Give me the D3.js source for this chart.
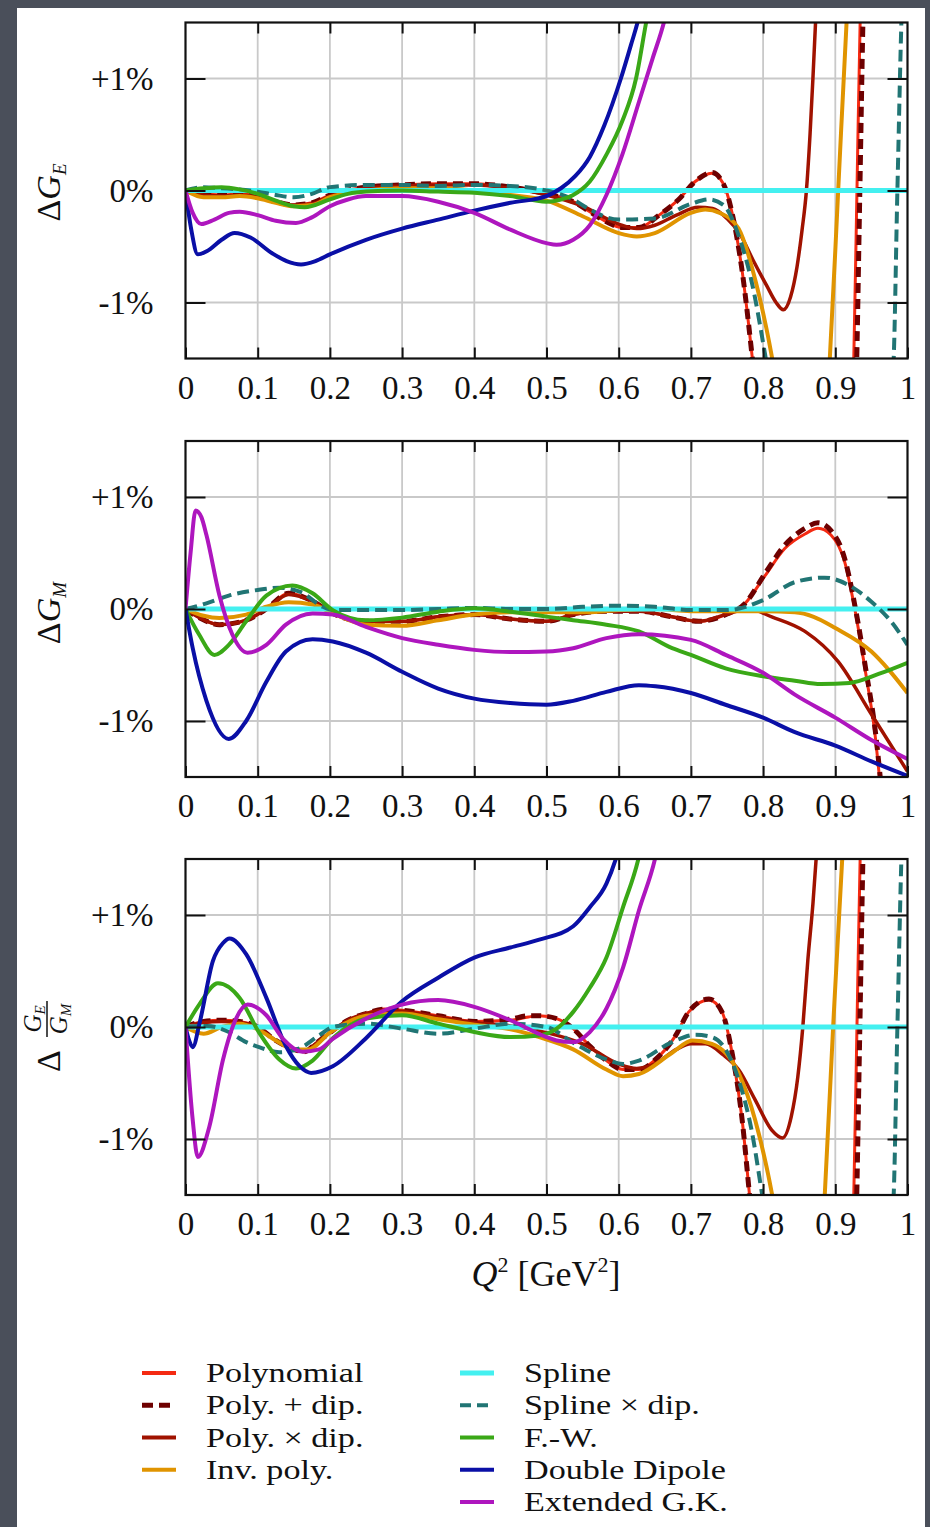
<!DOCTYPE html>
<html>
<head>
<meta charset="utf-8">
<title>Form factor fit deviations</title>
<script src="https://cdn.jsdelivr.net/npm/d3@7"></script>
<style>
  body { margin: 0; background: #4a4f5a; }
  svg { display: block; }
  text { font-family: "Liberation Serif", "DejaVu Serif", serif; fill: #111; }
</style>
</head>
<body>
<svg id="chart" width="930" height="1527"></svg>
<script>
// ---- data (Q^2 in GeV^2, deviation in %) ----
const Q_TICKS = [0, 0.1, 0.2, 0.3, 0.4, 0.5, 0.6, 0.7, 0.8, 0.9, 1];
const PCT_TICKS = [-1, 0, 1];
const SERIES = ["Polynomial", "Poly. + dip.", "Poly. \u00d7 dip.", "Inv. poly.",
                "Spline", "Spline \u00d7 dip.", "F.-W.", "Double Dipole", "Extended G.K."];

// panel 1: Delta G_E
const GE_poly = [[0,0],[0.025,-0.03],[0.05,-0.04],[0.075,-0.03],[0.1,-0.05],[0.125,-0.1],[0.15,-0.13],[0.175,-0.11],[0.2,-0.04],[0.25,0.03],[0.3,0.05],[0.35,0.06],[0.4,0.06],[0.45,0.03],[0.5,-0.03],[0.537,-0.1],[0.56,-0.19],[0.583,-0.28],[0.605,-0.33],[0.628,-0.33],[0.656,-0.22],[0.683,-0.08],[0.706,0.08],[0.729,0.155],[0.745,0.06],[0.757,-0.2],[0.771,-0.72],[0.786,-1.55],[0.8,-2.4],[0.86,-5],[0.92,-2.6],[0.925,-1.7],[0.93,0],[0.935,1.7],[0.945,3]];
const GE_polyPlusDip = [[0,0],[0.025,-0.03],[0.05,-0.04],[0.075,-0.03],[0.1,-0.05],[0.125,-0.1],[0.15,-0.13],[0.175,-0.11],[0.2,-0.04],[0.25,0.03],[0.3,0.05],[0.35,0.06],[0.4,0.06],[0.45,0.03],[0.5,-0.03],[0.537,-0.1],[0.56,-0.19],[0.583,-0.28],[0.605,-0.33],[0.628,-0.33],[0.656,-0.22],[0.683,-0.08],[0.706,0.08],[0.729,0.16],[0.745,0.06],[0.757,-0.2],[0.771,-0.72],[0.786,-1.55],[0.8,-2.4],[0.86,-5],[0.924,-2.6],[0.929,-1.7],[0.934,0],[0.939,1.7],[0.95,3]];
const GE_polyTimesDip = [[0,0],[0.025,-0.04],[0.05,-0.05],[0.075,-0.04],[0.1,-0.06],[0.125,-0.1],[0.15,-0.13],[0.175,-0.12],[0.2,-0.05],[0.25,0.02],[0.3,0.04],[0.35,0.05],[0.4,0.05],[0.45,0.02],[0.5,-0.04],[0.55,-0.14],[0.6,-0.3],[0.625,-0.34],[0.65,-0.31],[0.68,-0.22],[0.71,-0.15],[0.73,-0.16],[0.75,-0.25],[0.768,-0.39],[0.786,-0.62],[0.805,-0.85],[0.818,-1.0],[0.828,-1.065],[0.838,-0.95],[0.847,-0.68],[0.854,-0.35],[0.86,0],[0.865,0.5],[0.869,1.0],[0.873,1.55],[0.878,2.2]];
const GE_invPoly = [[0,0],[0.025,-0.06],[0.05,-0.06],[0.075,-0.05],[0.1,-0.07],[0.125,-0.11],[0.15,-0.14],[0.175,-0.13],[0.2,-0.06],[0.25,0],[0.3,0.02],[0.35,0.02],[0.4,0],[0.45,-0.04],[0.5,-0.09],[0.55,-0.23],[0.6,-0.38],[0.625,-0.41],[0.65,-0.38],[0.7,-0.2],[0.72,-0.17],[0.74,-0.2],[0.766,-0.34],[0.79,-0.82],[0.814,-1.55],[0.85,-3.2],[0.885,-2.2],[0.892,-1.55],[0.904,0],[0.916,1.55],[0.925,2.5]];
const GE_spline = [[0,0],[0.5,0],[1,0]];
const GE_splineDip = [[0,0],[0.025,0.03],[0.05,0.02],[0.075,0.01],[0.1,-0.01],[0.125,-0.04],[0.15,-0.06],[0.175,-0.03],[0.2,0.03],[0.25,0.05],[0.3,0.05],[0.35,0.04],[0.4,0.05],[0.45,0.04],[0.5,0],[0.537,-0.08],[0.56,-0.17],[0.6,-0.26],[0.65,-0.25],[0.7,-0.12],[0.725,-0.08],[0.745,-0.13],[0.766,-0.4],[0.784,-0.81],[0.805,-1.55],[0.85,-3.5],[0.93,-3],[0.98,-1.6],[0.986,0],[0.992,1.6],[1,2.5]];
const GE_fw = [[0,0],[0.025,0.02],[0.05,0.03],[0.075,0.01],[0.1,-0.03],[0.125,-0.09],[0.15,-0.14],[0.165,-0.15],[0.2,-0.08],[0.225,-0.03],[0.25,-0.01],[0.3,0],[0.35,-0.01],[0.4,-0.02],[0.45,-0.05],[0.5,-0.1],[0.52,-0.08],[0.537,-0.04],[0.56,0.08],[0.583,0.32],[0.605,0.62],[0.624,1.0],[0.638,1.5],[0.65,1.9]];
const GE_dd = [[0,0],[0.008,-0.35],[0.017,-0.57],[0.03,-0.54],[0.05,-0.44],[0.068,-0.38],[0.09,-0.42],[0.12,-0.56],[0.14,-0.63],[0.16,-0.66],[0.18,-0.63],[0.2,-0.57],[0.25,-0.44],[0.3,-0.34],[0.35,-0.26],[0.4,-0.18],[0.45,-0.11],[0.5,-0.05],[0.52,0.02],[0.54,0.13],[0.56,0.3],[0.58,0.58],[0.603,1.0],[0.617,1.3],[0.628,1.55],[0.64,1.95]];
const GE_egk = [[0,0],[0.01,-0.2],[0.022,-0.3],[0.04,-0.26],[0.06,-0.2],[0.075,-0.19],[0.1,-0.22],[0.125,-0.27],[0.153,-0.29],[0.175,-0.24],[0.2,-0.14],[0.225,-0.08],[0.25,-0.05],[0.3,-0.05],[0.35,-0.1],[0.4,-0.2],[0.45,-0.35],[0.5,-0.47],[0.514,-0.485],[0.537,-0.44],[0.56,-0.31],[0.583,-0.04],[0.605,0.32],[0.628,0.79],[0.647,1.18],[0.663,1.51],[0.67,1.7]];

// panel 2: Delta G_M
const GM_poly = [[0,0],[0.02,-0.08],[0.047,-0.14],[0.084,-0.1],[0.112,0],[0.143,0.14],[0.176,0.07],[0.204,-0.04],[0.25,-0.11],[0.3,-0.11],[0.35,-0.07],[0.4,-0.05],[0.45,-0.09],[0.5,-0.11],[0.537,-0.05],[0.583,-0.02],[0.628,-0.02],[0.674,-0.07],[0.711,-0.11],[0.748,-0.05],[0.775,0.05],[0.803,0.3],[0.83,0.54],[0.858,0.67],[0.876,0.72],[0.894,0.66],[0.913,0.42],[0.927,0],[0.941,-0.53],[0.955,-1.12],[0.962,-1.55],[0.97,-2]];
const GM_polyPlusDip = [[0,0],[0.02,-0.08],[0.047,-0.14],[0.084,-0.1],[0.112,0],[0.143,0.14],[0.176,0.07],[0.204,-0.04],[0.25,-0.11],[0.3,-0.11],[0.35,-0.07],[0.4,-0.05],[0.45,-0.09],[0.5,-0.11],[0.537,-0.05],[0.583,-0.02],[0.628,-0.02],[0.674,-0.07],[0.711,-0.11],[0.748,-0.05],[0.775,0.05],[0.803,0.32],[0.83,0.57],[0.858,0.72],[0.876,0.77],[0.894,0.7],[0.913,0.45],[0.928,0],[0.942,-0.53],[0.956,-1.12],[0.963,-1.55],[0.97,-2]];
const GM_polyTimesDip = [[0,0],[0.02,-0.08],[0.047,-0.14],[0.084,-0.1],[0.112,0],[0.143,0.13],[0.176,0.07],[0.204,-0.04],[0.25,-0.11],[0.3,-0.11],[0.35,-0.07],[0.4,-0.05],[0.45,-0.09],[0.5,-0.11],[0.537,-0.05],[0.583,-0.02],[0.628,-0.02],[0.674,-0.07],[0.711,-0.11],[0.748,-0.05],[0.78,0],[0.812,-0.07],[0.858,-0.2],[0.904,-0.47],[0.95,-0.94],[1,-1.45]];
const GM_invPoly = [[0,0],[0.025,-0.06],[0.047,-0.08],[0.084,-0.05],[0.112,0.02],[0.143,0.06],[0.176,0.04],[0.204,-0.04],[0.25,-0.14],[0.3,-0.15],[0.35,-0.1],[0.4,-0.05],[0.45,-0.03],[0.5,-0.03],[0.55,-0.03],[0.6,-0.01],[0.65,0],[0.7,-0.02],[0.75,-0.02],[0.8,-0.02],[0.844,-0.03],[0.87,-0.07],[0.9,-0.17],[0.95,-0.38],[0.975,-0.55],[1,-0.75]];
const GM_spline = [[0,0],[0.5,0],[1,0]];
const GM_splineDip = [[0,0],[0.029,0.05],[0.06,0.12],[0.1,0.17],[0.13,0.19],[0.16,0.15],[0.19,0.02],[0.204,-0.01],[0.25,-0.01],[0.3,-0.01],[0.35,0],[0.4,0.01],[0.45,0],[0.5,0],[0.55,0.02],[0.6,0.03],[0.65,0.02],[0.7,-0.01],[0.75,-0.01],[0.8,0.08],[0.844,0.24],[0.885,0.28],[0.927,0.18],[0.95,0.065],[0.977,-0.11],[1,-0.32]];
const GM_fw = [[0,0],[0.019,-0.23],[0.04,-0.41],[0.06,-0.32],[0.084,-0.11],[0.112,0.12],[0.148,0.21],[0.176,0.14],[0.204,-0.01],[0.25,-0.1],[0.3,-0.077],[0.35,-0.024],[0.4,0.006],[0.45,-0.024],[0.5,-0.068],[0.537,-0.1],[0.583,-0.14],[0.628,-0.2],[0.674,-0.35],[0.7,-0.41],[0.748,-0.53],[0.8,-0.6],[0.844,-0.64],[0.88,-0.67],[0.92,-0.66],[0.96,-0.58],[1,-0.48]];
const GM_dd = [[0,0],[0.01,-0.35],[0.029,-0.82],[0.06,-1.16],[0.084,-1.0],[0.112,-0.65],[0.139,-0.38],[0.176,-0.27],[0.204,-0.29],[0.25,-0.39],[0.3,-0.56],[0.35,-0.71],[0.4,-0.8],[0.45,-0.84],[0.5,-0.855],[0.537,-0.82],[0.583,-0.74],[0.628,-0.68],[0.651,-0.69],[0.7,-0.75],[0.748,-0.855],[0.8,-0.97],[0.844,-1.1],[0.9,-1.22],[0.95,-1.36],[1,-1.49]];
const GM_egk = [[0,0],[0.007,0.5],[0.014,0.88],[0.022,0.82],[0.029,0.66],[0.047,0.12],[0.065,-0.23],[0.086,-0.39],[0.112,-0.32],[0.139,-0.14],[0.176,-0.04],[0.204,-0.05],[0.25,-0.16],[0.3,-0.26],[0.35,-0.32],[0.4,-0.365],[0.45,-0.385],[0.5,-0.38],[0.537,-0.35],[0.583,-0.26],[0.628,-0.225],[0.7,-0.276],[0.748,-0.41],[0.8,-0.57],[0.844,-0.765],[0.9,-0.97],[0.95,-1.17],[1,-1.34]];

// panel 3: Delta (G_E / G_M)
const R_poly = [[0,0],[0.025,0.05],[0.05,0.06],[0.075,0.05],[0.1,0],[0.125,-0.12],[0.15,-0.2],[0.165,-0.22],[0.18,-0.15],[0.2,-0.05],[0.225,0.06],[0.25,0.12],[0.275,0.16],[0.3,0.15],[0.35,0.1],[0.4,0.05],[0.45,0.06],[0.475,0.09],[0.49,0.1],[0.514,0.075],[0.537,-0.015],[0.56,-0.17],[0.583,-0.3],[0.606,-0.38],[0.628,-0.38],[0.651,-0.29],[0.679,-0.075],[0.697,0.135],[0.725,0.24],[0.743,0.135],[0.757,-0.23],[0.771,-0.83],[0.782,-1.55],[0.8,-2.6],[0.86,-5],[0.92,-2.6],[0.925,-1.7],[0.93,0],[0.935,1.7],[0.945,3]];
const R_polyPlusDip = [[0,0],[0.025,0.05],[0.05,0.06],[0.075,0.05],[0.1,0],[0.125,-0.12],[0.15,-0.2],[0.165,-0.22],[0.18,-0.15],[0.2,-0.05],[0.225,0.06],[0.25,0.12],[0.275,0.16],[0.3,0.15],[0.35,0.1],[0.4,0.05],[0.45,0.07],[0.475,0.1],[0.49,0.1],[0.514,0.075],[0.537,-0.015],[0.56,-0.17],[0.583,-0.3],[0.606,-0.38],[0.628,-0.38],[0.651,-0.29],[0.679,-0.075],[0.697,0.135],[0.725,0.25],[0.743,0.135],[0.757,-0.23],[0.771,-0.83],[0.782,-1.55],[0.8,-2.6],[0.86,-5],[0.924,-2.6],[0.929,-1.7],[0.934,0],[0.939,1.7],[0.95,3]];
const R_polyTimesDip = [[0,0],[0.025,0.04],[0.05,0.05],[0.075,0.04],[0.1,0],[0.125,-0.12],[0.15,-0.2],[0.165,-0.22],[0.18,-0.15],[0.2,-0.05],[0.225,0.06],[0.25,0.12],[0.275,0.15],[0.3,0.14],[0.35,0.09],[0.4,0.04],[0.45,0.01],[0.5,-0.05],[0.55,-0.15],[0.6,-0.33],[0.625,-0.37],[0.65,-0.33],[0.68,-0.2],[0.7,-0.15],[0.72,-0.15],[0.745,-0.25],[0.766,-0.38],[0.789,-0.65],[0.812,-0.92],[0.827,-0.99],[0.839,-0.8],[0.848,-0.45],[0.855,0],[0.862,0.6],[0.869,1.1],[0.874,1.55],[0.88,2.2]];
const R_invPoly = [[0,0],[0.025,-0.06],[0.05,0],[0.075,0.03],[0.1,-0.02],[0.125,-0.12],[0.15,-0.2],[0.17,-0.2],[0.2,-0.05],[0.25,0.1],[0.3,0.12],[0.35,0.07],[0.4,0.02],[0.45,-0.02],[0.49,-0.09],[0.537,-0.2],[0.583,-0.38],[0.606,-0.44],[0.628,-0.42],[0.674,-0.23],[0.702,-0.12],[0.729,-0.15],[0.766,-0.41],[0.789,-0.83],[0.814,-1.55],[0.85,-3.2],[0.879,-2.2],[0.885,-1.55],[0.897,0],[0.91,1.55],[0.92,2.5]];
const R_spline = [[0,0],[0.5,0],[1,0]];
const R_splineDip = [[0,0],[0.03,0.01],[0.06,-0.045],[0.084,-0.135],[0.102,-0.18],[0.13,-0.225],[0.158,-0.19],[0.185,-0.075],[0.204,0],[0.25,0.03],[0.3,-0.015],[0.35,-0.06],[0.4,-0.015],[0.45,0.03],[0.5,0],[0.537,-0.14],[0.583,-0.29],[0.606,-0.33],[0.628,-0.3],[0.674,-0.135],[0.706,-0.07],[0.729,-0.09],[0.748,-0.2],[0.766,-0.47],[0.784,-0.92],[0.8,-1.55],[0.85,-3.5],[0.93,-3],[0.98,-1.6],[0.986,0],[0.992,1.6],[1,2.5]];
const R_fw = [[0,0],[0.019,0.2],[0.045,0.39],[0.075,0.26],[0.102,-0.05],[0.13,-0.29],[0.153,-0.37],[0.176,-0.3],[0.204,-0.1],[0.25,0.075],[0.3,0.105],[0.35,0.03],[0.4,-0.045],[0.45,-0.09],[0.49,-0.075],[0.514,-0.015],[0.537,0.135],[0.56,0.35],[0.583,0.62],[0.606,1.07],[0.628,1.52],[0.64,1.9]];
const R_dd = [[0,0],[0.005,-0.12],[0.01,-0.18],[0.02,0.05],[0.038,0.59],[0.052,0.75],[0.061,0.79],[0.084,0.65],[0.112,0.26],[0.139,-0.17],[0.158,-0.35],[0.174,-0.41],[0.204,-0.35],[0.25,-0.1],[0.3,0.23],[0.35,0.44],[0.4,0.62],[0.45,0.71],[0.49,0.78],[0.537,0.9],[0.56,1.07],[0.583,1.28],[0.597,1.52],[0.605,1.7]];
const R_egk = [[0,0],[0.01,-0.83],[0.017,-1.16],[0.033,-0.89],[0.052,-0.29],[0.07,0.075],[0.086,0.2],[0.112,0.105],[0.135,-0.105],[0.162,-0.22],[0.185,-0.2],[0.204,-0.105],[0.25,0.075],[0.3,0.2],[0.35,0.24],[0.4,0.18],[0.45,0.06],[0.5,-0.09],[0.514,-0.12],[0.537,-0.135],[0.56,-0.045],[0.583,0.165],[0.606,0.53],[0.628,1.04],[0.651,1.52],[0.66,1.8]];

const PANEL_GE = [GE_poly, GE_polyPlusDip, GE_polyTimesDip, GE_invPoly, GE_spline, GE_splineDip, GE_fw, GE_dd, GE_egk];
const PANEL_GM = [GM_poly, GM_polyPlusDip, GM_polyTimesDip, GM_invPoly, GM_spline, GM_splineDip, GM_fw, GM_dd, GM_egk];
const PANEL_R  = [R_poly, R_polyPlusDip, R_polyTimesDip, R_invPoly, R_spline, R_splineDip, R_fw, R_dd, R_egk];

// ---- styles ----
const STYLE = [
  {color: "#f42a12", width: 3,   dash: null},
  {color: "#6e0000", width: 5,   dash: "10,6"},
  {color: "#a01200", width: 3.5, dash: null},
  {color: "#e09400", width: 4,   dash: null},
  {color: "#44f0f0", width: 5,   dash: null},
  {color: "#217574", width: 4,   dash: "12,6"},
  {color: "#3aa817", width: 4,   dash: null},
  {color: "#0a0fa6", width: 4,   dash: null},
  {color: "#ae16be", width: 4,   dash: null}
];

const svg = d3.select("#chart");
svg.append("rect").attr("x", 17).attr("y", 8).attr("width", 908).attr("height", 1530).attr("fill", "#fff");

const x = d3.scaleLinear().domain([0, 1]).range([185.5, 907.5]);
const plotH = 336;

function drawPanel(idx, top, data) {
  const y = d3.scaleLinear().domain([-1.5, 1.5]).range([top + plotH, top]);
  const g = svg.append("g");
  const clipId = "clip" + idx;
  svg.append("clipPath").attr("id", clipId).append("rect")
    .attr("x", x(0)).attr("y", top).attr("width", x(1) - x(0)).attr("height", plotH);

  // grid
  g.append("g").selectAll("line").data(Q_TICKS.slice(1, -1)).join("line")
    .attr("x1", d => x(d)).attr("x2", d => x(d)).attr("y1", top).attr("y2", top + plotH)
    .attr("stroke", "#c9c9c9").attr("stroke-width", 1.8);
  g.append("g").selectAll("line").data(PCT_TICKS).join("line")
    .attr("x1", x(0)).attr("x2", x(1)).attr("y1", d => y(d)).attr("y2", d => y(d))
    .attr("stroke", "#c9c9c9").attr("stroke-width", 1.8);

  // curves
  const line = d3.line().x(d => x(d[0])).y(d => y(d[1])).curve(d3.curveMonotoneX);
  const lines = g.append("g").attr("clip-path", `url(#${clipId})`);
  data.forEach((s, i) => {
    lines.append("path").attr("d", line(s)).attr("fill", "none")
      .attr("stroke", STYLE[i].color).attr("stroke-width", STYLE[i].width)
      .attr("stroke-dasharray", STYLE[i].dash).attr("stroke-linejoin", "round");
  });

  // axes (ticks pointing inward)
  const styleAxis = sel => {
    sel.select(".domain").remove();
    sel.selectAll(".tick line").attr("stroke", "#111").attr("stroke-width", 2);
    sel.selectAll("text").attr("font-size", 33).attr("fill", "#111")
      .style("font-family", '"Liberation Serif", serif');
  };
  g.append("g").attr("transform", `translate(0,${top + plotH})`)
    .call(d3.axisBottom(x).tickValues(Q_TICKS).tickSize(-11).tickPadding(17).tickFormat(d3.format("~g")))
    .call(styleAxis);
  g.append("g").attr("transform", `translate(0,${top})`)
    .call(d3.axisTop(x).tickValues(Q_TICKS.slice(1, -1)).tickSize(-11).tickFormat(""))
    .call(styleAxis);
  g.append("g").attr("transform", `translate(${x(0)},0)`)
    .call(d3.axisLeft(y).tickValues(PCT_TICKS).tickSize(-20).tickPadding(32)
      .tickFormat(d => (d > 0 ? "+" : d < 0 ? "-" : "") + Math.abs(d) + "%"))
    .call(styleAxis);
  g.append("g").attr("transform", `translate(${x(1)},0)`)
    .call(d3.axisRight(y).tickValues(PCT_TICKS).tickSize(-20).tickFormat(""))
    .call(styleAxis);

  g.append("rect").attr("x", x(0)).attr("y", top).attr("width", x(1) - x(0)).attr("height", plotH)
    .attr("fill", "none").attr("stroke", "#111").attr("stroke-width", 2.2);
  return y;
}

const tops = [22.5, 441, 859];
drawPanel(0, tops[0], PANEL_GE);
drawPanel(1, tops[1], PANEL_GM);
drawPanel(2, tops[2], PANEL_R);

// y labels (rotated)
function simpleLabel(cy, sub) {
  const t = svg.append("text").attr("transform", `translate(60,${cy}) rotate(-90)`)
    .attr("text-anchor", "middle").attr("font-size", 34);
  t.append("tspan").text("\u0394");
  t.append("tspan").attr("font-style", "italic").text("G");
  t.append("tspan").attr("font-size", 19).attr("font-style", "italic").attr("dy", 6).text(sub);
}
simpleLabel(tops[0] + 170, "E");
simpleLabel(tops[1] + 172, "M");

{
  const g = svg.append("g").attr("transform", `translate(60,${tops[2] + 168}) rotate(-90)`);
  g.append("text").attr("x", -34).attr("y", 0).attr("text-anchor", "middle").attr("font-size", 34).text("\u0394");
  const num = g.append("text").attr("x", 8).attr("y", -19).attr("text-anchor", "middle").attr("font-size", 25).attr("font-style", "italic");
  num.append("tspan").text("G");
  num.append("tspan").attr("font-size", 15).attr("dy", 4).text("E");
  g.append("line").attr("x1", -10).attr("x2", 26).attr("y1", -13).attr("y2", -13).attr("stroke", "#111").attr("stroke-width", 1.5);
  const den = g.append("text").attr("x", 8).attr("y", 7).attr("text-anchor", "middle").attr("font-size", 25).attr("font-style", "italic");
  den.append("tspan").text("G");
  den.append("tspan").attr("font-size", 15).attr("dy", 4).text("M");
}

// x axis title
{
  const t = svg.append("text").attr("x", 546).attr("y", 1286).attr("text-anchor", "middle").attr("font-size", 36);
  t.append("tspan").attr("font-style", "italic").text("Q");
  t.append("tspan").attr("font-size", 22).attr("dy", -14).text("2");
  t.append("tspan").attr("dy", 14).text(" [GeV");
  t.append("tspan").attr("font-size", 22).attr("dy", -14).text("2");
  t.append("tspan").attr("dy", 14).text("]");
}

// legend
const legendRow = d3.scaleLinear().domain([0, 4]).range([1373, 1502]);
SERIES.forEach((name, i) => {
  const col = i < 4 ? 0 : 1;
  const row = i < 4 ? i : i - 4;
  const lx = col === 0 ? 142 : 460;
  const ly = legendRow(row);
  svg.append("line").attr("x1", lx).attr("x2", lx + 34).attr("y1", ly).attr("y2", ly)
    .attr("stroke", STYLE[i].color).attr("stroke-width", Math.max(STYLE[i].width, 4))
    .attr("stroke-dasharray", STYLE[i].dash ? "11,6" : null);
  svg.append("text").attr("transform", `translate(${lx + 64},${ly + 9}) scale(1.22,1)`)
    .attr("font-size", 28).text(name);
});
</script>
</body>
</html>
